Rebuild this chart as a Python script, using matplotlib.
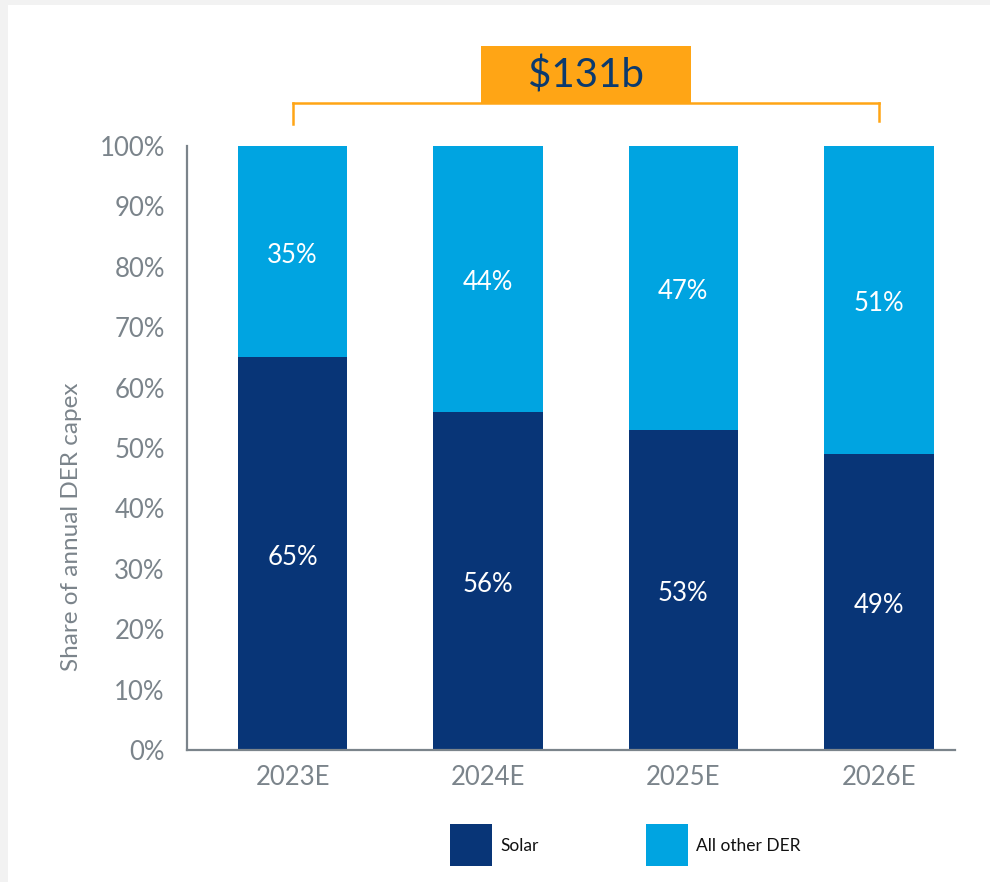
import matplotlib
matplotlib.use("Agg")
import matplotlib.pyplot as plt
from matplotlib.patches import Rectangle
from matplotlib.lines import Line2D

categories = ["2023E", "2024E", "2025E", "2026E"]
solar = [65, 56, 53, 49]
other = [35, 44, 47, 51]
ytick_vals = [0, 10, 20, 30, 40, 50, 60, 70, 80, 90, 100]
ytick_labels = [f"{v}%" for v in ytick_vals]
total_label = "$131b"

NAVY = "#083577"
LIGHT = "#00a4e1"
GRAY = "#7b848b"
ORANGE = "#ffa515"

plt.rcParams['font.family'] = ['Lato', 'DejaVu Sans']

W, H = 990, 882
fig = plt.figure(figsize=(W / 100, H / 100), dpi=100)
fig.patch.set_facecolor("#f2f2f2")
fig.patches.append(Rectangle((8 / W, 0), 1 - 8 / W, 1 - 5 / H, transform=fig.transFigure,
                             facecolor="white", edgecolor="none", zorder=-5))

def fx(x):
    return x / W

def fy(y):
    return 1 - y / H

ax = fig.add_axes([fx(187), fy(750), fx(955) - fx(187), fy(146) - fy(750)])
ax.set_zorder(2)
ax.set_facecolor("none")
x = list(range(len(categories)))
ax.bar(x, solar, width=0.56, color=NAVY, zorder=2)
ax.bar(x, other, width=0.56, bottom=solar, color=LIGHT, zorder=2)

for i in x:
    ax.text(i, solar[i] / 2 - 0.6, f"{solar[i]}%", ha="center", va="center", color="white", fontsize=18.5)
    ax.text(i, solar[i] + other[i] / 2 - 0.6, f"{other[i]}%", ha="center", va="center", color="white", fontsize=18.5)

ax.set_xlim(-0.54, 3.39)
ax.set_ylim(0, 100)
ax.set_yticks(ytick_vals)
ax.set_yticklabels(ytick_labels)
ax.set_xticks(x)
ax.set_xticklabels(categories)
ax.tick_params(axis="y", length=0, pad=16, labelsize=18.5, labelcolor=GRAY)
ax.tick_params(axis="x", length=0, pad=11, labelsize=18.5, labelcolor=GRAY)
for s in ["top", "right"]:
    ax.spines[s].set_visible(False)
for s in ["left", "bottom"]:
    ax.spines[s].set_color(GRAY)
    ax.spines[s].set_linewidth(1.6)
ax.set_ylabel("Share of annual DER capex", fontsize=17.5, color=GRAY)
ax.yaxis.set_label_coords((82 - 187) / (955 - 187), 0.37)

# Bracket and total box
lw = 1.8
fig.add_artist(Line2D([fx(293), fx(879)], [fy(103), fy(103)], color=ORANGE, lw=lw, transform=fig.transFigure))
fig.add_artist(Line2D([fx(293), fx(293)], [fy(103), fy(124)], color=ORANGE, lw=lw, transform=fig.transFigure))
fig.add_artist(Line2D([fx(879), fx(879)], [fy(103), fy(121)], color=ORANGE, lw=lw, transform=fig.transFigure))
fig.patches.append(Rectangle((fx(481), fy(103)), fx(691) - fx(481), fy(46) - fy(103),
                             transform=fig.transFigure, facecolor=ORANGE, edgecolor="none", zorder=3))
fig.text(fx(586), fy(76), total_label, ha="center", va="center", fontsize=29, color="#0b3a6e", zorder=4)

# Legend
for (x0, col, lab) in [(450, NAVY, "Solar"), (646, LIGHT, "All other DER")]:
    fig.patches.append(Rectangle((fx(x0), fy(866)), fx(42), fy(824) - fy(866),
                                 transform=fig.transFigure, facecolor=col, edgecolor="none"))
    fig.text(fx(x0 + 50), fy(846), lab, ha="left", va="center", fontsize=12.5, color="#111111")

fig.savefig("out.png", dpi=100)
